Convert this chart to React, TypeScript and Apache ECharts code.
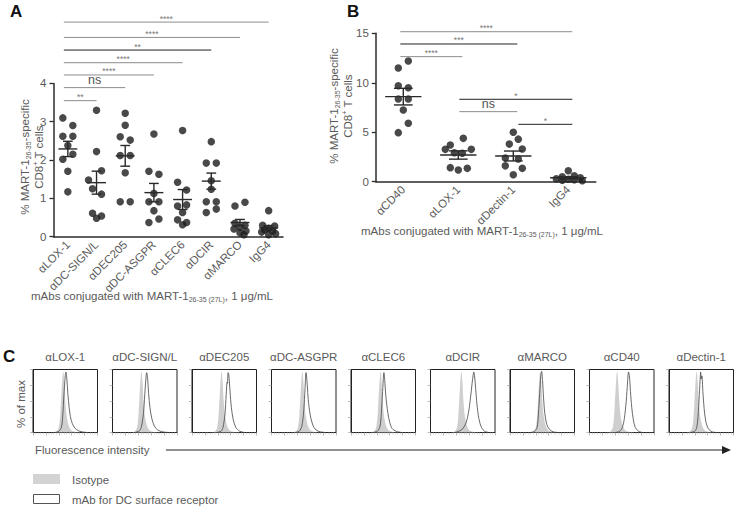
import React, { useEffect, useRef } from 'react';
import * as echarts from 'echarts';

// ---------------- data ----------------
const catA = ['αLOX-1', 'αDC-SIGN/L', 'αDEC205', 'αDC-ASGPR', 'αCLEC6', 'αDCIR', 'αMARCO', 'IgG4'];
const valuesA = [
  [3.1, 2.9, 2.62, 2.62, 2.38, 2.15, 2.02, 1.71, 1.17],
  [3.3, 2.22, 1.72, 1.48, 1.25, 1.11, 0.61, 0.54, 0.48],
  [3.22, 2.91, 2.61, 2.52, 2.12, 2.12, 1.67, 0.91, 0.91],
  [2.68, 1.71, 1.63, 1.13, 0.91, 0.91, 0.68, 0.46, 0.37],
  [2.77, 1.42, 1.22, 0.83, 0.8, 0.63, 0.44, 0.37, 0.31],
  [2.48, 1.92, 1.92, 1.46, 1.24, 0.91, 0.91, 0.72, 0.63],
  [0.9, 0.8, 0.35, 0.3, 0.25, 0.2, 0.15, 0.1, 0.05],
  [0.68, 0.3, 0.28, 0.22, 0.18, 0.15, 0.12, 0.08, 0.05],
];
const meanA = [2.29, 1.41, 2.11, 1.15, 0.97, 1.45, 0.37, 0.23];
const semA = [0.2, 0.3, 0.27, 0.24, 0.26, 0.21, 0.08, 0.06];
const ticksA = [0, 1, 2, 3, 4];

const sigA = [
  { from: 0, to: 1, level: 3.55, label: '**', dark: false },
  { from: 0, to: 2, level: 3.89, label: 'ns', dark: false },
  { from: 0, to: 3, level: 4.22, label: '****', dark: false },
  { from: 0, to: 4, level: 4.54, label: '****', dark: false },
  { from: 0, to: 5, level: 4.87, label: '**', dark: true },
  { from: 0, to: 6, level: 5.2, label: '****', dark: false },
  { from: 0, to: 7, level: 5.6, label: '****', dark: false },
];

const catB = ['αCD40', 'αLOX-1', 'αDectin-1', 'IgG4'];
const valuesB = [
  [12.2, 11.5, 9.7, 9.5, 8.36, 8.36, 7.25, 5.9, 4.96],
  [4.38, 3.71, 3.27, 3.27, 2.93, 2.87, 1.42, 1.35, 1.18],
  [5.0, 4.3, 3.8, 3.3, 2.4, 2.3, 1.6, 1.35, 0.7],
  [1.1, 0.6, 0.5, 0.4, 0.3, 0.25, 0.2, 0.15, 0.1],
];
const meanB = [8.6, 2.7, 2.6, 0.4];
const semB = [0.84, 0.42, 0.5, 0.1];

const sigB = [
  { from: 0, to: 3, level: 15.16, label: '****', dark: false },
  { from: 0, to: 2, level: 13.92, label: '***', dark: true },
  { from: 0, to: 1, level: 12.64, label: '****', dark: false },
  { from: 1, to: 3, level: 8.33, label: '*', dark: true },
  { from: 1, to: 2, level: 7.08, label: 'ns', dark: false },
  { from: 2, to: 3, level: 5.8, label: '*', dark: true },
];

const histLabels = ['αLOX-1', 'αDC-SIGN/L', 'αDEC205', 'αDC-ASGPR', 'αCLEC6', 'αDCIR', 'αMARCO', 'αCD40', 'αDectin-1'];
const isoCurves = [
  [[31,0],[37,2],[40,8],[42,25],[44,60],[46,92],[47,97],[48.5,80],[50,52],[52,28],[55,12],[59,4],[65,1],[73,0]],
  [[29,0],[35,2],[38,8],[40,25],[42,60],[44,92],[45,97],[46.5,80],[48,52],[50,28],[53,12],[57,4],[63,1],[71,0]],
  [[30,0],[36,2],[39,8],[41,25],[43,60],[45,92],[46,97],[47.5,80],[49,52],[51,28],[54,12],[58,4],[64,1],[72,0]],
  [[32,0],[38,2],[41,8],[43,25],[45,60],[47,92],[48,97],[49.5,80],[51,52],[53,28],[56,12],[60,4],[66,1],[74,0]],
  [[30,0],[36,2],[39,8],[41,25],[43,60],[45,92],[46,97],[47.5,80],[49,52],[51,28],[54,12],[58,4],[64,1],[72,0]],
  [[32,0],[38,2],[41,8],[43,25],[45,60],[47,92],[48,97],[49.5,80],[51,52],[53,28],[56,12],[60,4],[66,1],[74,0]],
  [[31,0],[37,2],[40,8],[42,25],[44,60],[46,92],[47,97],[48.5,80],[50,52],[52,28],[55,12],[59,4],[65,1],[73,0]],
  [[27,0],[33,2],[36,8],[38,25],[40,60],[42,92],[43,97],[44.5,80],[46,52],[48,28],[51,12],[55,4],[61,1],[69,0]],
  [[27,0],[33,2],[36,8],[38,25],[40,60],[42,92],[43,97],[44.5,80],[46,52],[48,28],[51,12],[55,4],[61,1],[69,0]],
];
const mabCurves = [
  [[34,0],[40,2],[44,8],[46,25],[48,60],[50,90],[51,96],[52.5,85],[54,62],[56,40],[58,25],[61,14],[65,7],[70,3],[76,1],[84,0]],
  [[35,0],[42,3],[45,10],[48,30],[50,60],[52,88],[53,95],[54.5,85],[56,62],[58,40],[61,22],[65,10],[70,4],[78,1],[86,0]],
  [[38,0],[45,2],[48,8],[51,28],[53,60],[54.5,80],[55,78],[56,95],[57,92],[59,65],[61,40],[64,20],[68,8],[74,2],[82,0]],
  [[36,0],[43,2],[47,10],[50,35],[52,70],[53.5,95],[54,93],[55.5,75],[57,52],[60,28],[64,12],[69,4],[76,1],[84,0]],
  [[34,0],[41,2],[45,10],[47,30],[49,65],[50.5,92],[51,95],[52.5,80],[54,58],[57,32],[60,16],[64,6],[70,2],[78,0]],
  [[38,0],[44,2],[50,6],[55,15],[59,32],[62,55],[64.5,78],[66,90],[67,96],[68.5,88],[70,70],[72,45],[75,22],[79,8],[84,2],[90,0]],
  [[32,0],[38,2],[42,8],[44,28],[46,62],[48,92],[49,97],[50.5,82],[52,55],[54,30],[57,13],[61,5],[67,1],[75,0]],
  [[40,0],[47,2],[51,8],[54,22],[57,50],[59,80],[60.5,96],[62,88],[63.5,65],[65.5,40],[68,20],[71,8],[76,2],[82,0]],
  [[33,0],[40,2],[43,8],[45,25],[47,60],[48.5,88],[49,96],[50,85],[51,90],[52.5,65],[54.5,38],[57,18],[61,6],[67,1],[75,0]],
];

// ---------------- layout (pixels / styles) ----------------
const FONT = "'Liberation Sans', Arial, Helvetica, sans-serif";
const TXT = '#5a5a5a';
const AX = '#2b2b2b';
const DOT = '#1c1c1c';
const jitterA = [
  [-5, 5, -5, 5, 0, 5, -5, 0, 0],
  [0, 0, 5, -8, -4, 5, -4, 5, 0],
  [0, 0, -5, 5, -5, 5, 0, -5, 5],
  [0, -5, 5, 0, -5, 5, 0, 5, -5],
  [0, -5, 4, 4, -5, 0, -5, 4, 0],
  [0, -5, 5, 0, 0, -5, 5, 5, -5],
  [5, -5, -5, 5, 0, -6, 6, 0, 4],
  [0, -6, 6, 0, -4, 4, -7, 7, 0],
];
const jitterB = [
  [5, -5, -5, 5, -5, 5, 0, 5, -5],
  [5, -8, -13, 13, -4, 4, -8, 9, 0],
  [0, 5, -4, 9, -8, 5, -8, 9, 0],
  [0, 6, -6, 12, -12, 0, 6, -6, 14],
];
const gA = { left: 53.5, top: 83.4, width: 229.5, height: 153.3 };
const gAo = { left: 53.5, top: 236.7 - 6 * 38.325, width: 229.5, height: 6 * 38.325 };
const gB = { left: 375.8, top: 33.3, width: 220, height: 148.4 };
const gBo = { left: 375.8, top: 181.7 - 16 * (148.4 / 15), width: 220, height: 16 * (148.4 / 15) };
const boxLeft = (i: number) => 33 + i * 79.5;
const boxTop = 369.5;
const boxW = 64.5;
const boxH = 63;

function meanRender(params: any, api: any) {
  const x = api.value(0), m = api.value(1), s = api.value(2);
  const c = api.coord([x, m]);
  const t = api.coord([x, m + s]);
  const b = api.coord([x, m - s]);
  const bw = api.size([1, 0])[0];
  const hm = bw * 0.33, hs = bw * 0.17;
  const st = { stroke: '#2a2a2a', lineWidth: 1.4 };
  return {
    type: 'group',
    children: [
      { type: 'line', shape: { x1: c[0] - hm, y1: c[1], x2: c[0] + hm, y2: c[1] }, style: st },
      { type: 'line', shape: { x1: c[0] - hs, y1: t[1], x2: c[0] + hs, y2: t[1] }, style: st },
      { type: 'line', shape: { x1: c[0] - hs, y1: b[1], x2: c[0] + hs, y2: b[1] }, style: st },
      { type: 'line', shape: { x1: c[0], y1: t[1], x2: c[0], y2: b[1] }, style: st },
    ],
  };
}

function makeSigRender(list: any[], startPad: (f: number) => number, endPad: number) {
  return (params: any, api: any) => {
    const d = list[params.dataIndex];
    const p1 = api.coord([api.value(0), api.value(1)]);
    const p2 = api.coord([api.value(2), api.value(1)]);
    const x1 = p1[0] + startPad(d.from);
    const x2 = p2[0] + endPad;
    const ns = d.label === 'ns';
    return {
      type: 'group',
      children: [
        { type: 'line', shape: { x1, y1: p1[1], x2, y2: p1[1] }, style: { stroke: d.dark ? '#222' : '#8c8c8c', lineWidth: 1 } },
        {
          type: 'text',
          x: (x1 + x2) / 2,
          y: ns ? p1[1] - 1 : p1[1] + 1,
          style: {
            text: d.label, fill: ns ? '#555' : '#777', fontSize: ns ? 12.5 : 8.5, fontFamily: FONT,
            textAlign: 'center', textVerticalAlign: 'bottom', align: 'center', verticalAlign: 'bottom',
          },
        },
      ],
    };
  };
}

function rtext(x: number, y: number, text: string, rich: any, opts: any = {}) {
  return {
    type: 'text', x, y, rotation: opts.rotation || 0,
    style: {
      text, rich, fill: TXT, fontFamily: FONT, fontSize: 11.5,
      textAlign: opts.align || 'left', align: opts.align || 'left',
      textVerticalAlign: 'middle', verticalAlign: 'middle',
    },
  };
}

const richT = {
  t: { fontSize: 11.5, fontFamily: FONT, fill: TXT, lineHeight: 14, verticalAlign: 'middle' },
  s: { fontSize: 7, fontFamily: FONT, fill: TXT, verticalAlign: 'bottom' },
  p: { fontSize: 7, fontFamily: FONT, fill: TXT, verticalAlign: 'top' },
};

export default function App() {
  const ref = useRef<HTMLDivElement>(null);
  useEffect(() => {
    const chart = echarts.init(ref.current!, undefined, { renderer: 'svg' });

    const grids: any[] = [gA, gAo, gB, gBo];
    for (let i = 0; i < 9; i++) {
      grids.push({ left: boxLeft(i), top: boxTop, width: boxW, height: boxH, show: true, borderColor: '#222', borderWidth: 1 });
    }

    const catAxis = (gridIndex: number, data: string[], show: boolean) => ({
      type: 'category', gridIndex, data, show, boundaryGap: true,
      axisLine: { lineStyle: { color: AX, width: 1.5 } },
      axisTick: { alignWithLabel: true, length: 4, lineStyle: { color: AX, width: 1.3 } },
      axisLabel: { rotate: 45, fontSize: 11.5, fontFamily: FONT, color: TXT, margin: 6, interval: 0 },
    });
    const valAxis = (gridIndex: number, max: number, interval: number, show: boolean) => ({
      type: 'value', gridIndex, min: 0, max, interval, show,
      axisLine: { show: true, lineStyle: { color: AX, width: 1.5 } },
      axisTick: { show: true, length: 4, lineStyle: { color: AX, width: 1.3 } },
      axisLabel: { fontSize: 11.5, fontFamily: FONT, color: TXT, margin: 7 },
      splitLine: { show: false },
    });

    const xAxis: any[] = [
      catAxis(0, catA, true),
      catAxis(1, catA, false),
      catAxis(2, catB, true),
      catAxis(3, catB, false),
    ];
    const yAxis: any[] = [
      valAxis(0, ticksA[ticksA.length - 1], 1, true),
      valAxis(1, 6, 1, false),
      valAxis(2, 15, 5, true),
      valAxis(3, 16, 4, false),
    ];
    for (let i = 0; i < 9; i++) {
      xAxis.push({
        type: 'value', gridIndex: 4 + i, min: 0, max: 100, interval: 20,
        axisLine: { show: true, lineStyle: { color: '#222', width: 1 } },
        axisTick: { show: true, length: 3, lineStyle: { color: '#aaa', width: 0.8 } },
        minorTick: { show: true, splitNumber: 5, length: 2, lineStyle: { color: '#c4c4c4', width: 0.6 } },
        axisLabel: { show: false }, splitLine: { show: false },
      });
      yAxis.push({
        type: 'value', gridIndex: 4 + i, min: 0, max: 100, interval: 25,
        axisLine: { show: true, lineStyle: { color: '#222', width: 1 } },
        axisTick: { show: true, length: 3, lineStyle: { color: '#aaa', width: 0.8 } },
        axisLabel: { show: false }, splitLine: { show: false },
      });
    }

    const series: any[] = [
      {
        type: 'scatter', xAxisIndex: 0, yAxisIndex: 0, symbolSize: 7.5,
        itemStyle: { color: DOT }, silent: true,
        data: valuesA.flatMap((vals, i) => vals.map((v, k) => ({ value: [i, v], symbolOffset: [jitterA[i][k], 0] }))),
      },
      {
        type: 'custom', xAxisIndex: 0, yAxisIndex: 0, z: 5, silent: true,
        data: meanA.map((m, i) => [i, m, semA[i]]), encode: { x: 0, y: 1 }, renderItem: meanRender,
      },
      {
        type: 'custom', xAxisIndex: 1, yAxisIndex: 1, silent: true,
        data: sigA.map((s) => [s.from, s.level, s.to]), encode: { x: 0, y: 1 },
        renderItem: makeSigRender(sigA, () => -4, 0),
      },
      {
        type: 'scatter', xAxisIndex: 2, yAxisIndex: 2, symbolSize: 7.5,
        itemStyle: { color: DOT }, silent: true,
        data: valuesB.flatMap((vals, i) => vals.map((v, k) => ({ value: [i, v], symbolOffset: [jitterB[i][k], 0] }))),
      },
      {
        type: 'custom', xAxisIndex: 2, yAxisIndex: 2, z: 5, silent: true,
        data: meanB.map((m, i) => [i, m, semB[i]]), encode: { x: 0, y: 1 }, renderItem: meanRender,
      },
      {
        type: 'custom', xAxisIndex: 3, yAxisIndex: 3, silent: true,
        data: sigB.map((s) => [s.from, s.level, s.to]), encode: { x: 0, y: 1 },
        renderItem: makeSigRender(sigB, (f) => [-3, 1, 5][f], 4),
      },
    ];
    for (let i = 0; i < 9; i++) {
      series.push({
        type: 'line', xAxisIndex: 4 + i, yAxisIndex: 4 + i, data: isoCurves[i], smooth: 0.3,
        showSymbol: false, silent: true, lineStyle: { width: 0, color: '#cfcfcf' },
        areaStyle: { color: '#cfcfcf', opacity: 1 },
      });
      series.push({
        type: 'line', xAxisIndex: 4 + i, yAxisIndex: 4 + i, data: mabCurves[i], smooth: 0.3,
        showSymbol: false, silent: true, lineStyle: { width: 0.8, color: '#444' },
      });
    }

    const graphic: any[] = [
      { type: 'text', x: 10, y: 3, style: { text: 'A', fontSize: 17, fontWeight: 'bold', fontFamily: FONT, fill: '#111' } },
      { type: 'text', x: 347, y: 3, style: { text: 'B', fontSize: 17, fontWeight: 'bold', fontFamily: FONT, fill: '#111' } },
      { type: 'text', x: 3, y: 348, style: { text: 'C', fontSize: 17, fontWeight: 'bold', fontFamily: FONT, fill: '#111' } },
      rtext(32, 157, '{t|% MART-1}{s|26-35}{t|-specific}\n{t|CD8}{p|+}{t| T cells}', richT, { rotation: Math.PI / 2, align: 'center' }),
      rtext(341, 106, '{t|% MART-1}{s|26-35}{t|-specific}\n{t|CD8}{p|+}{t| T cells}', richT, { rotation: Math.PI / 2, align: 'center' }),
      rtext(152, 296, '{t|mAbs conjugated with MART-1}{s|26-35 (27L)}{t|, 1 μg/mL}', richT, { align: 'center' }),
      rtext(482, 231, '{t|mAbs conjugated with MART-1}{s|26-35 (27L)}{t|, 1 μg/mL}', richT, { align: 'center' }),
      rtext(21, 404, '% of max', richT, { rotation: Math.PI / 2, align: 'center' }),
      rtext(35, 450, 'Fluorescence intensity', richT, { align: 'left' }),
      { type: 'line', shape: { x1: 166, y1: 450, x2: 724, y2: 450 }, style: { stroke: '#222', lineWidth: 1 } },
      { type: 'polygon', shape: { points: [[722, 446], [731, 450], [722, 454]] }, style: { fill: '#222' } },
      { type: 'rect', shape: { x: 33, y: 474, width: 27, height: 10 }, style: { fill: '#d3d3d3' } },
      rtext(72, 479.5, 'Isotype', richT, { align: 'left' }),
      { type: 'rect', shape: { x: 33.5, y: 494.5, width: 26, height: 9 }, style: { fill: '#fff', stroke: '#555', lineWidth: 1 } },
      rtext(72, 499.5, 'mAb for DC surface receptor', richT, { align: 'left' }),
    ];
    histLabels.forEach((lab, i) => {
      graphic.push(rtext(boxLeft(i) + boxW / 2, 357, lab, richT, { align: 'center' }));
    });

    chart.setOption({
      animation: false,
      grid: grids,
      xAxis,
      yAxis,
      series,
      graphic,
    });
    return () => chart.dispose();
  }, []);
  return <div ref={ref} style={{ position: 'fixed', left: 0, top: 0, width: 735, height: 506, background: '#fff' }} />;
}
